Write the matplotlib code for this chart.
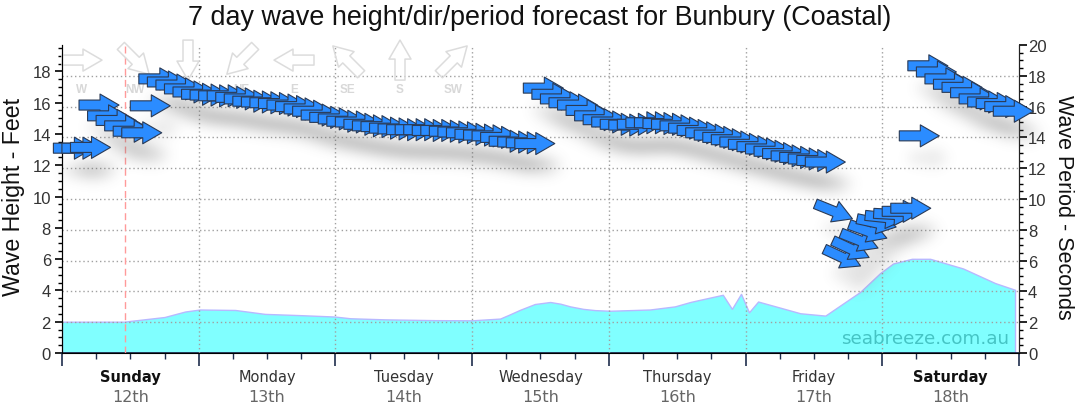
import numpy as np
import matplotlib
matplotlib.use('Agg')
import matplotlib.pyplot as plt
from matplotlib.path import Path
from matplotlib.collections import PathCollection
from matplotlib.transforms import IdentityTransform, blended_transform_factory

plt.rcParams['font.family'] = ['Liberation Sans', 'DejaVu Sans']

# wave height (feet), hours from Sunday 00:00
height_hours = [0, 11, 12, 18, 21.6, 24.2, 30.4, 35.6, 41.8, 47.9, 50.6, 56.7, 65.5, 72,
                76.9, 78.5, 80.4, 83, 85.7, 87.5, 89.2, 91.5, 93.6, 96.2, 103.2, 107.6,
                110.3, 112, 116, 117.6, 119.2, 120.6, 122.2, 129.6, 134, 140.1, 143.6,
                145.9, 149.2, 152.4, 158.2, 163.8, 167.3]
height_feet = [2.0, 2.0, 2.05, 2.3, 2.65, 2.78, 2.75, 2.5, 2.42, 2.33, 2.22, 2.15, 2.1, 2.09,
               2.2, 2.45, 2.76, 3.13, 3.26, 3.15, 2.98, 2.82, 2.74, 2.7, 2.78, 2.98,
               3.26, 3.4, 3.72, 2.82, 3.78, 2.6, 3.29, 2.54, 2.39, 3.9, 5.1,
               5.72, 6.02, 6.02, 5.4, 4.47, 4.04]

# swell arrows, one every 1.5 h starting Sunday 02:00
arrow_start = 2.0
arrow_step = 1.5
periods = [13.3, 13.3, 13.35,
           16.1, 15.4, 15.1, 14.75, 14.4, 14.3,
           16.05,
           17.8, 17.6, 17.4, 17.15, 16.95, 16.8, 16.75, 16.7, 16.7, 16.6,
           16.5, 16.35, 16.3, 16.25, 16.2, 16.1, 16.0, 15.85, 15.7, 15.45,
           15.3, 15.2, 15.05, 15.0, 14.85, 14.75, 14.7, 14.6, 14.55, 14.5,
           14.5, 14.5, 14.45, 14.45, 14.4, 14.35, 14.3, 14.2, 14.15, 14.1,
           14.0, 13.75, 13.7, 13.65, 13.6,
           17.2, 16.8, 16.5, 16.25, 16.1, 15.75, 15.4, 15.15, 15.0, 14.85,
           14.8, 14.85, 14.95, 14.95, 14.9, 14.85, 14.75, 14.6, 14.45, 14.3,
           14.15, 14.0, 13.85, 13.7, 13.55, 13.4, 13.25, 13.1, 12.95, 12.8,
           12.7, 12.6, 12.5, 12.4,
           9.2, 6.2, 6.75, 7.3, 7.9, 8.45, 8.8, 9.0, 9.2, 9.4,
           14.1,
           18.65, 18.25, 17.8, 17.45, 17.25, 16.9, 16.5, 16.3, 16.2, 16.0, 15.7]
# direction the swell comes from (deg)
directions = [270] * 89 + [292, 295, 295, 292, 290, 282, 276, 273, 270, 270] + [270] * 12

days = ['Sunday', 'Monday', 'Tuesday', 'Wednesday', 'Thursday', 'Friday', 'Saturday']
dates = ['12th', '13th', '14th', '15th', '16th', '17th', '18th']
weekend = ['Sunday', 'Saturday']

compass = ['W', 'NW', 'N', 'NE', 'E', 'SE', 'S', 'SW']
compass_deg = [270, 315, 0, 45, 90, 135, 180, 225]
now_hour = 11


def arrow_path(deg_from):
    ang = np.deg2rad(270 - deg_from)
    pts = np.array([(-20, -5), (1, -5), (1, -11), (20, 0), (1, 11), (1, 5), (-20, 5), (-20, -5)], float)
    c, s = np.cos(ang), np.sin(ang)
    return Path(pts @ np.array([[c, s], [-s, c]]), closed=True)


def drop_shadow(im, dpi):
    # blurred grey copy, shifted right/down
    pad = 32
    a = np.pad(im[:, :, 3], pad)
    r = np.arange(-15, 16)
    k = np.exp(-r ** 2 / (2 * 5.0 ** 2))
    k /= k.sum()
    a = np.apply_along_axis(np.convolve, 0, a, k, 'same')
    a = np.apply_along_axis(np.convolve, 1, a, k, 'same')
    out = np.zeros(a.shape + (4,))
    out[..., :3] = 0.35
    out[..., 3] = np.clip(a, 0, 1)
    return out, -pad + 5, -pad - 11


fig = plt.figure(figsize=(10.8, 4.14), dpi=100)
ax = fig.add_axes([62 / 1080, 60 / 414, 957 / 1080, 308 / 414])
ax2 = ax.twinx()

# wave height area
ax.fill_between(height_hours, height_feet, color='#80ffff', edgecolor='#b8b8ff', lw=1, zorder=1)
ax.set_xlim(0, 168)
ax.set_ylim(0, 19.685)
ax.set_xticks(np.arange(0, 169, 24))
ax.set_xticks(np.arange(0, 169, 6), minor=True)
ax.set_xticklabels([])
ax.set_yticks(np.arange(0, 19, 2))
ax.set_yticks(np.arange(0, 19.6, 0.5), minor=True)
ax.tick_params(axis='y', which='major', length=5, width=1.2, labelsize=12, labelcolor='#333333', pad=3)
ax.tick_params(axis='y', which='minor', length=3, width=1)
ax.tick_params(axis='x', which='major', length=9, width=1.2, color='#1f2d4d')
ax.tick_params(axis='x', which='minor', length=4, width=1, color='#1f2d4d')
ax.spines['top'].set_visible(False)
ax.spines['bottom'].set_color('#1f2d4d')
ax.spines['bottom'].set_linewidth(1.3)
ax.spines['left'].set_color('#222222')

ax2.set_ylim(0, 20)
ax2.set_yticks(np.arange(0, 21, 2))
ax2.set_yticks(np.arange(0, 20.1, 0.5), minor=True)
ax2.tick_params(axis='y', which='major', length=5.5, width=1.2, labelsize=12, labelcolor='#333333', pad=1)
ax2.tick_params(axis='y', which='minor', length=3, width=1)
ax2.spines['top'].set_visible(False)
ax2.spines['right'].set_color('#222222')

# grid
for v in range(2, 19, 2):
    ax2.axhline(v, color='#a0a0a0', ls=(0, (1, 2)), lw=1, zorder=1)
for d in range(24, 168, 24):
    ax2.axvline(d, color='#a0a0a0', ls=(0, (1, 2)), lw=1, zorder=1)
ax2.axvline(now_hour, color='#ff9a9a', ls=(0, (5, 3)), lw=1, zorder=2)

# compass legend
cx = [(20 + 53 * i) / 957 for i in range(len(compass))]
legend = PathCollection([arrow_path(d) for d in compass_deg], offsets=np.column_stack([cx, [0.951] * len(cx)]),
                        offset_transform=ax2.transAxes, transform=IdentityTransform(),
                        facecolors='none', edgecolors='#dcdcdc', linewidths=1.1, clip_on=False, zorder=2)
ax2.add_collection(legend, autolim=False)
for x, lab in zip(cx, compass):
    ax2.text(x, 0.857, lab, transform=ax2.transAxes, ha='center', va='center',
             fontsize=8.5, fontweight='bold', color='#d8d8d8', zorder=2)

ax2.text(0.99, 0.048, 'seabreeze.com.au', transform=ax2.transAxes, ha='right', va='center',
         fontsize=13.2, family='DejaVu Sans', color='#45c4c4', zorder=2)

# swell arrows with shadow
times = arrow_start + arrow_step * np.arange(len(periods))
offsets = np.column_stack([times, periods])
paths = [arrow_path(d) for d in directions]
shadow = PathCollection(paths, offsets=offsets, offset_transform=ax2.transData, transform=IdentityTransform(),
                        facecolors=(0, 0, 0, 0.16), edgecolors='none', clip_on=False, zorder=3)
shadow.set_agg_filter(drop_shadow)
ax2.add_collection(shadow, autolim=False)
arrows = PathCollection(paths, offsets=offsets, offset_transform=ax2.transData, transform=IdentityTransform(),
                        facecolors='#2b8cff', edgecolors='#2a3a55', linewidths=0.8, clip_on=False, zorder=4)
ax2.add_collection(arrows, autolim=False)

# day labels
tr = blended_transform_factory(ax.transData, ax.transAxes)
for i, (dname, dt) in enumerate(zip(days, dates)):
    ax.text(12 + 24 * i, -0.075, dname, transform=tr, ha='center', va='center', family='DejaVu Sans',
            fontsize=10.5, fontweight='bold' if dname in weekend else 'normal',
            color='#111111' if dname in weekend else '#333333')
    ax.text(12 + 24 * i, -0.14, dt, transform=tr, ha='center', va='center', family='DejaVu Sans',
            fontsize=11.5, color='#666666')

fig.text(0.5, 1 - 18 / 414, '7 day wave height/dir/period forecast for Bunbury (Coastal)',
         ha='center', va='center', fontsize=19.4, color='#111111')
fig.text(14 / 1080, 1 - 197 / 414, 'Wave Height - Feet', rotation=90, ha='center', va='center',
         fontsize=16.7, color='#111111')
fig.text(1063 / 1080, 1 - 207 / 414, 'Wave Period - Seconds', rotation=270, ha='center', va='center',
         fontsize=15.5, color='#111111')

fig.savefig('out.png', dpi=100)
